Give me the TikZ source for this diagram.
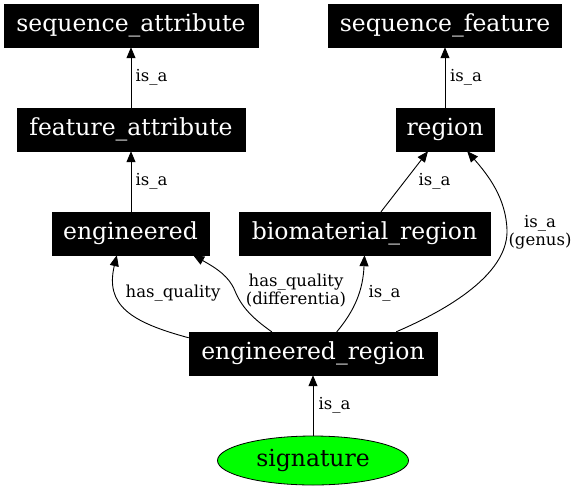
\documentclass[tikz,border=0pt]{standalone}
\usepackage{fontspec}
\setmainfont{DejaVu Serif}
\usetikzlibrary{arrows.meta,calc,shapes.geometric}
\definecolor{sigfill}{HTML}{00FF00}
\tikzset{
  term/.style={rectangle, fill=black, draw=black, text=white, inner sep=0pt,
    font=\fontsize{23.5}{26}\selectfont, minimum height=43pt},
  sigshape/.style={ellipse, fill=sigfill, draw=black, line width=0.8pt, inner sep=0pt,
    font=\fontsize{23.5}{26}\selectfont, minimum width=191pt, minimum height=49pt},
  edge/.style={draw=black, line width=0.9pt, -{Triangle[length=11pt,width=9pt]}},
  elabel/.style={inner sep=0pt, font=\fontsize{16.5}{18}\selectfont, align=center}
}
\begin{document}
\begin{tikzpicture}[x=1pt,y=-1pt]
\useasboundingbox (0,0) rectangle (576,491);
% nodes
\node[term, minimum width=254pt] (sa) at (131,25.5) {sequence\_attribute};
\node[term, minimum width=233pt] (sf) at (445,25.5) {sequence\_feature};
\node[term, minimum width=228pt] (fa) at (131,129.5) {feature\_attribute};
\node[term, minimum width=98pt] (rg) at (445,129.5) {region};
\node[term, minimum width=157pt] (en) at (130.5,233.5) {engineered};
\node[term, minimum width=251pt] (bm) at (364.5,233.5) {biomaterial\_region};
\node[term, minimum width=248pt] (er) at (313,353.5) {engineered\_region};
\node[sigshape] (sg) at (313,460.5) {signature};
% edges
\draw[edge] (fa.north) -- (sa.south);
\draw[edge] (rg.north) -- (sf.south);
\draw[edge] (en.north -| fa.south) -- (fa.south);
\draw[edge] ($(bm.north)+(16.5,0)$) -- ($(rg.south)+(-17,0)$);
\draw[edge] ($(er.north east)+(-41,0)$) .. controls (470,300) and (508,265) .. (507,230)
   .. controls (506,198) and (488,175) .. ($(rg.south east)+(-27,0)$);
\draw[edge] ($(er.north west)+(0,6)$) .. controls (130,322) and (105,305) .. ($(en.south west)+(65,0)$);
\draw[edge] ($(er.north west)+(83,0)$) .. controls (252,318) and (241,306) .. (235,291)
   .. controls (229,276) and (216,268) .. ($(en.south east)+(-16,0)$);
\draw[edge] ($(er.north west)+(148,0)$) .. controls (355,310) and (363,290) .. (bm.south);
\draw[edge] (sg.north) -- (er.south);
% labels
\node[elabel] (l1) at (151.5,77) {is\_a};
\node[elabel] (l2) at (466,77) {is\_a};
\node[elabel] (l3) at (151.5,181) {is\_a};
\node[elabel] (l4) at (434.5,181) {is\_a};
\node[elabel] (l5) at (540,232) {is\_a\\(genus)};
\node[elabel] (l6) at (173,293) {has\_quality};
\node[elabel] (l7) at (296,291) {has\_quality\\(differentia)};
\node[elabel] (l8) at (384.5,293) {is\_a};
\node[elabel] (l9) at (334.5,405) {is\_a};
\end{tikzpicture}
\end{document}
